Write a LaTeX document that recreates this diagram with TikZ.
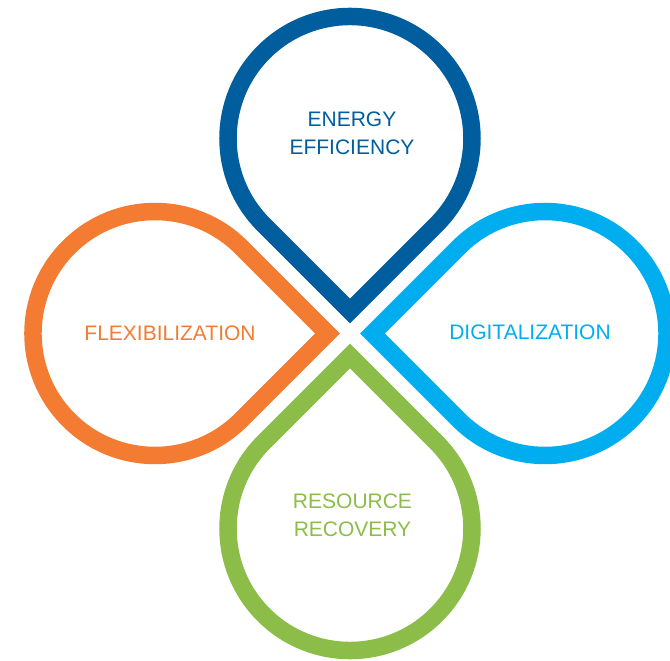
\documentclass[tikz,border=0pt]{standalone}
\usepackage{fontspec}
\setmainfont{Liberation Sans}
\usepackage{tikz}
\usepackage{color}

\definecolor{energyblue}{HTML}{005E9E}
\definecolor{digitalcyan}{HTML}{00AEEF}
\definecolor{flexorange}{HTML}{F47B32}
\definecolor{resourcegreen}{HTML}{8BBD48}

\begin{document}
\begin{tikzpicture}[x=1pt,y=1pt,
petal/.style={line width=17.5pt,line join=miter},
txt/.style={font=\fontsize{21}{28}\selectfont,align=center}]
\clip (-350,-327.5) rectangle (320,333.5);
\coordinate (c) at (0,0);
\draw[petal,draw=energyblue,rotate=0] (0,22.5) -- ++(45:122) arc[start angle=-45,end angle=225,radius=122] -- cycle;
\draw[petal,draw=digitalcyan,rotate=-90] (0,22.5) -- ++(45:122) arc[start angle=-45,end angle=225,radius=122] -- cycle;
\draw[petal,draw=resourcegreen,rotate=180] (0,22.5) -- ++(45:122) arc[start angle=-45,end angle=225,radius=122] -- cycle;
\draw[petal,draw=flexorange,rotate=90] (0,22.5) -- ++(45:122) arc[start angle=-45,end angle=225,radius=122] -- cycle;
\node at (2,200)[txt,text=energyblue](energy){ENERGY\\EFFICIENCY};
\node at (180,1.5)[txt,text=digitalcyan](digital){DIGITALIZATION};
\node at (2.5,-181.75)[txt,text=resourcegreen](resource){RESOURCE\\RECOVERY};
\node at (-180,0.5)[txt,text=flexorange](flex){FLEXIBILIZATION};
\end{tikzpicture}
\end{document}
